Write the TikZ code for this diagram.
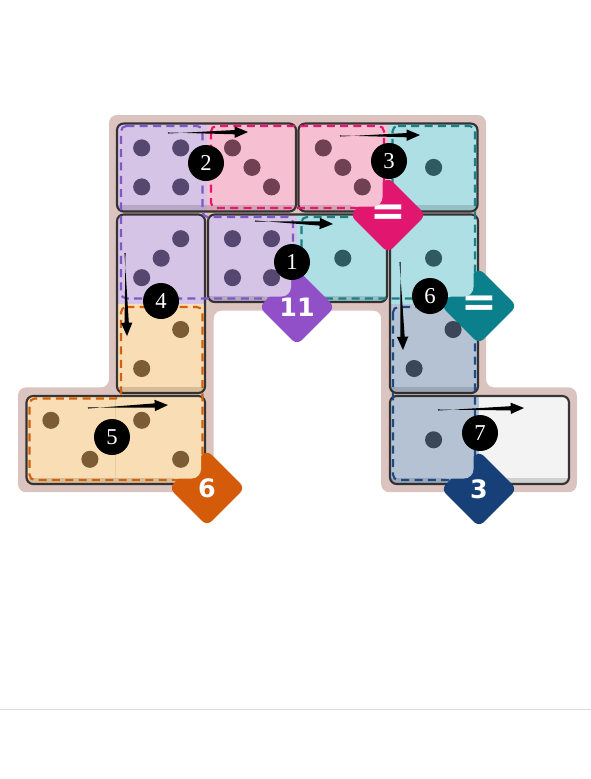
\documentclass[tikz,border=0pt]{standalone}
\usepackage{fontspec}
\setmainfont{Liberation Serif}
\newfontfamily\badgefont{DejaVu Sans}
\usetikzlibrary{calc,shapes.geometric}
\definecolor{bgframe}{HTML}{DBC4BF}
\definecolor{fillP}{HTML}{D5C4E5}\definecolor{dashP}{HTML}{7E57C8}\definecolor{pipP}{HTML}{564770}
\definecolor{fillK}{HTML}{F7C0D2}\definecolor{dashK}{HTML}{E3186E}\definecolor{pipK}{HTML}{6F4152}
\definecolor{fillT}{HTML}{AEDFE4}\definecolor{dashT}{HTML}{1E7E86}\definecolor{pipT}{HTML}{2F5B60}
\definecolor{fillO}{HTML}{F9DDB4}\definecolor{dashO}{HTML}{D2600F}\definecolor{pipO}{HTML}{7B5C34}
\definecolor{fillN}{HTML}{B5C2D4}\definecolor{dashN}{HTML}{1C4A82}\definecolor{pipN}{HTML}{3B4659}
\definecolor{fillW}{HTML}{F3F3F3}
\definecolor{badgeP}{HTML}{9150C8}\definecolor{badgeK}{HTML}{E0166F}\definecolor{badgeT}{HTML}{0B7F8B}
\definecolor{badgeO}{HTML}{D35B0A}\definecolor{badgeN}{HTML}{173F78}
\definecolor{rulegray}{HTML}{DDDDDD}
\newcommand\mvarrow[2]{%
  \path (#2) coordinate (tipE) ($(#2)!10pt!(#1)$) coordinate (neckH);
  \fill[black] ($(#1)!0.4pt!90:(tipE)$) -- ($(neckH)!1.6pt!-90:(tipE)$) -- ($(neckH)!4.3pt!-90:(tipE)$) -- (tipE)
    -- ($(neckH)!4.3pt!90:(tipE)$) -- ($(neckH)!1.6pt!90:(tipE)$) -- ($(#1)!0.4pt!-90:(tipE)$) -- cycle;
}
\tikzset{
  dom/.style={draw=black!90, draw opacity=0.85, line width=1.6pt, rounded corners=5pt},
  domclip/.style={rounded corners=5pt},
  shadeband/.style={fill=black, fill opacity=0.14},
  divider/.style={draw=black, draw opacity=0.08, line width=0.8pt},
  region/.style={line width=1.6pt, dash pattern=on 6pt off 4pt, rounded corners=4pt},
  notch/.style={rounded corners=7pt},
  stepnum/.style={circle, fill=black, text=white, minimum size=27pt, inner sep=0pt,
    font=\fontsize{17}{17}\selectfont},
  badge/.style={diamond, aspect=1, minimum size=57pt, inner sep=0pt, rounded corners=5pt,
    text=white, font=\badgefont\bfseries\fontsize{19}{19}\selectfont},
  eqbadge/.style={badge, font=\badgefont\bfseries\fontsize{32}{32}\selectfont},
}
\begin{document}
\begin{tikzpicture}[x=0.75pt,y=-0.75pt]
\useasboundingbox (0,0) rectangle (591,779);
\fill[white] (0,0) rectangle (591,779);
\draw[rulegray, line width=0.75pt] (0,709) -- (591,709);
% board frame
\fill[bgframe, rounded corners=6pt] (109,115) -- (486,115) -- (486,387.4) -- (576.8,387.4)
  -- (576.8,492.2) -- (381.2,492.2) -- (381.2,310.6) -- (213.6,310.6) -- (213.6,492.2)
  -- (18,492.2) -- (18,387.4) -- (109,387.4) -- cycle;
% D1
\begin{scope}\clip[domclip] (117,123.5) rectangle (296,211.5);
\fill[fillP] (117,123.5) rectangle (206.6,211.5);
\fill[fillK] (206.6,123.5) rectangle (296,211.5);
\fill[shadeband] (117,205) rectangle (296,211.5);
\end{scope}
\draw[dom] (117,123.5) rectangle (296,211.5);
% D2
\begin{scope}\clip[domclip] (298.5,123.5) rectangle (477.5,211.5);
\fill[fillK] (298.5,123.5) rectangle (388.2,211.5);
\fill[fillT] (388.2,123.5) rectangle (477.5,211.5);
\fill[shadeband] (298.5,205) rectangle (477.5,211.5);
\end{scope}
\draw[dom] (298.5,123.5) rectangle (477.5,211.5);
% D3
\begin{scope}\clip[domclip] (117,214.5) rectangle (205,393);
\fill[fillP] (117,214.5) rectangle (205,303.6);
\fill[fillO] (117,303.6) rectangle (205,393);
\fill[shadeband] (117,386.5) rectangle (205,393);
\end{scope}
\draw[dom] (117,214.5) rectangle (205,393);
% D4
\begin{scope}\clip[domclip] (208,214.5) rectangle (387,302);
\fill[fillP] (208,214.5) rectangle (297.4,302);
\fill[fillT] (297.4,214.5) rectangle (387,302);
\fill[shadeband] (208,295.5) rectangle (387,302);
\end{scope}
\draw[dom] (208,214.5) rectangle (387,302);
% D5
\begin{scope}\clip[domclip] (390,214.5) rectangle (478,393);
\fill[fillT] (390,214.5) rectangle (478,303.6);
\fill[fillN] (390,303.6) rectangle (478,393);
\fill[shadeband] (390,386.5) rectangle (478,393);
\end{scope}
\draw[dom] (390,214.5) rectangle (478,393);
% D6
\begin{scope}\clip[domclip] (26.5,396) rectangle (205,484);
\fill[fillO] (26.5,396) rectangle (205,484);
\fill[shadeband] (26.5,477.5) rectangle (205,484);
\draw[divider] (115.8,396) -- (115.8,478);
\end{scope}
\draw[dom] (26.5,396) rectangle (205,484);
% D7
\begin{scope}\clip[domclip] (390,396) rectangle (569,484);
\fill[fillN] (390,396) rectangle (479,484);
\fill[fillW] (479,396) rectangle (569,484);
\fill[shadeband] (390,477.5) rectangle (569,484);
\end{scope}
\draw[dom] (390,396) rectangle (569,484);
% regions
\draw[region, dashP] (121,126) -- (202.5,126) -- (202.5,217) -- (293,217) -- (293,298.5) -- (121,298.5) -- cycle;
\draw[region, dashK] (211,126) rectangle (384,208);
\draw[region, dashT] (392.5,126) -- (475,126) -- (475,298.5) -- (301.5,298.5) -- (301.5,217) -- (392.5,217) -- cycle;
\draw[region, dashO] (121,307) -- (202.5,307) -- (202.5,480) -- (29.5,480) -- (29.5,398.5) -- (121,398.5) -- cycle;
\draw[region, dashN] (393,307) rectangle (475,480);
% badges
\node[badge, fill=badgeP] (b11) at (297,307) {11};
\node[eqbadge, fill=badgeK] (beqk) at (388,215) {=};
\node[eqbadge, fill=badgeT] (beqt) at (479,306) {=};
\node[badge, fill=badgeO] (b6) at (207,488) {6};
\node[badge, fill=badgeN] (b3) at (479,489) {3};
% cell corners lying over the badges
\fill[fillP, notch] (255,265) rectangle (291,296.5);
\fill[fillK, notch] (346,173) rectangle (382.5,206.5);
\fill[fillT, notch] (437,264) rectangle (473.5,296.5);
\fill[fillO, notch] (165,446) rectangle (201,478.5);
\fill[fillN, notch] (437,447) rectangle (473.5,478.5);
% pips
\foreach \x/\y/\c in {141.7/147.9/pipP,180.7/147.9/pipP,141.7/186.9/pipP,180.7/186.9/pipP,
  232.5/147.9/pipK,252/167.4/pipK,271.5/186.9/pipK,
  323.3/147.9/pipK,342.8/167.4/pipK,362.3/186.9/pipK,
  433.6/167.4/pipT,
  180.7/238.7/pipP,161.2/258.2/pipP,141.7/277.7/pipP,
  232.5/238.7/pipP,271.5/238.7/pipP,232.5/277.7/pipP,271.5/277.7/pipP,
  342.8/258.2/pipT,433.6/258.2/pipT,
  180.7/329.5/pipO,141.7/368.5/pipO,
  453.1/329.5/pipN,414.1/368.5/pipN,
  50.9/420.3/pipO,89.9/459.3/pipO,141.7/420.3/pipO,180.7/459.3/pipO,
  433.6/439.8/pipN}
  \fill[\c] (\x,\y) circle[radius=6.4pt];
% arrows
\coordinate (a1s) at (255,221); \coordinate (a1e) at (333,224);
\coordinate (a2s) at (168,133); \coordinate (a2e) at (248,132);
\coordinate (a3s) at (340,136); \coordinate (a3e) at (420,135);
\coordinate (a4s) at (125,253); \coordinate (a4e) at (127,336);
\coordinate (a5s) at (88,408); \coordinate (a5e) at (168,405);
\coordinate (a6s) at (400,262); \coordinate (a6e) at (403,350);
\coordinate (a7s) at (438,410); \coordinate (a7e) at (524,408);
\mvarrow{a1s}{a1e}\mvarrow{a2s}{a2e}\mvarrow{a3s}{a3e}\mvarrow{a4s}{a4e}
\mvarrow{a5s}{a5e}\mvarrow{a6s}{a6e}\mvarrow{a7s}{a7e}
% step numbers
\node[stepnum] (s1) at (292,262) {1};
\node[stepnum] (s2) at (206,163) {2};
\node[stepnum] (s3) at (389,161) {3};
\node[stepnum] (s4) at (161,301) {4};
\node[stepnum] (s5) at (112,437) {5};
\node[stepnum] (s6) at (430,296) {6};
\node[stepnum] (s7) at (480,433) {7};
\end{tikzpicture}
\end{document}
